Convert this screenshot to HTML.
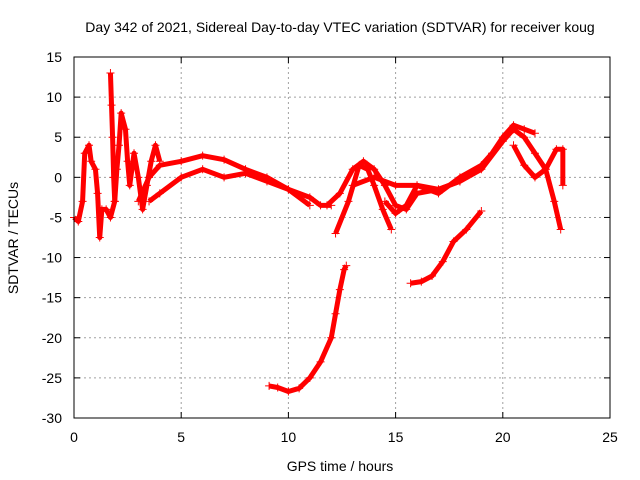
<!DOCTYPE html>
<html><head><meta charset="utf-8"><style>
body{margin:0;background:#fff}
svg{display:block;font-family:"Liberation Sans",sans-serif;font-size:14px}
</style></head><body>
<svg id="chart" width="640" height="480">
<text x="340" y="32" text-anchor="middle">Day 342 of 2021, Sidereal Day-to-day VTEC variation (SDTVAR) for receiver koug</text>
<text x="340" y="471" text-anchor="middle">GPS time / hours</text>
<text transform="translate(18,238) rotate(-90)" text-anchor="middle">SDTVAR / TECUs</text>
<g id="grid"></g><g id="ticks"></g><g id="marks"></g>
<rect x="74" y="57" width="536" height="361" fill="none" stroke="#000"/>
</svg>
<script>
const xTicks=[0,5,10,15,20,25];
const yTicks=[15,10,5,0,-5,-10,-15,-20,-25,-30];
const traceEarly=[[0,-5],[0.2,-5.5],[0.4,-3],[0.5,3],[0.7,4],[0.8,2],[1,1],[1.1,-2],[1.2,-7.5],[1.3,-4],[1.5,-4],[1.7,-5],[1.9,-3],[2,1],[2.1,4],[2.2,8],[2.4,6],[2.5,2],[2.6,-1],[2.8,3],[3,0],[3.2,-4],[3.4,-1],[3.6,2],[3.8,4],[4,2]];
const traceSpike=[[1.7,13],[1.75,9],[1.8,5],[1.85,0],[1.9,-3]];
const traceA=[[3,-3],[3.5,0],[4,1.5],[5,2],[6,2.7],[7,2.2],[8,1],[9,0],[10,-1.5],[11,-2.5],[11.5,-3.5],[12,-3.5]];
const traceB=[[3.5,-3],[4,-2],[5,0],[6,1],[7,0],[8,0.5],[9,-0.5],[10,-1.5],[11,-3.5]];
const traceC=[[12.2,-7],[12.8,-3],[13.3,1.5],[13.7,1],[14,-1],[14.4,-4],[14.8,-6.5]];
const traceD=[[11.8,-3.5],[12.4,-2],[13,1],[13.5,2],[14,1],[14.5,-1],[15,-3.5],[15.5,-4],[16,-2],[17,-1.5],[18,-0.5],[19,1],[20,4.5],[20.5,6],[21,5],[21.5,3],[22,1],[22.4,-3],[22.7,-6.5]];
const traceE=[[13,-1],[14,0],[15,-1],[16,-1],[17,-2],[18,0],[19,1.5],[19.5,3],[20,5],[20.5,6.5],[21,6],[21.5,5.5]];
const traceF=[[14.5,-3],[15,-4.5],[15.5,-3.5],[16,-1],[17,-1.5],[18,-0.5]];
const traceG=[[20.5,4],[21,1.5],[21.5,0],[22,1],[22.5,3.5],[22.8,3.5],[22.8,-1]];
const traceH=[[9.1,-26],[9.5,-26.2],[10,-26.7],[10.5,-26.3],[11,-25],[11.5,-23],[12,-20],[12.2,-17],[12.4,-14],[12.6,-11.5],[12.7,-11]];
const traceI=[[15.7,-13.2],[16.2,-13],[16.7,-12.3],[17.2,-10.5],[17.7,-8],[18.3,-6.5],[19,-4.2]];
const traces=[traceEarly,traceSpike,traceA,traceB,traceC,traceD,traceE,traceF,traceG,traceH,traceI];
const NS="http://www.w3.org/2000/svg";
const X=v=>74+v*(536/25), Y=v=>418-(v+30)*(361/45);
function mk(t,a,p){const e=document.createElementNS(NS,t);for(const k in a)e.setAttribute(k,a[k]);p.appendChild(e);return e;}
const grid=document.getElementById('grid'),ticks=document.getElementById('ticks'),marks=document.getElementById('marks');
xTicks.forEach(v=>{
 if(v>0&&v<25){const g=mk('line',{x1:X(v),x2:X(v),y1:57,y2:418,stroke:'#a0a0a0','stroke-dasharray':'2,3'},grid);
 
 }
 mk('line',{x1:X(v),x2:X(v),y1:418,y2:412,stroke:'#000'},ticks);
 mk('line',{x1:X(v),x2:X(v),y1:57,y2:63,stroke:'#000'},ticks);
 const t=mk('text',{x:X(v),y:442,'text-anchor':'middle'},ticks);t.textContent=v;
 
 
});
yTicks.forEach(v=>{
 if(v>-30&&v<15){const g=mk('line',{x1:74,x2:610,y1:Y(v),y2:Y(v),stroke:'#a0a0a0','stroke-dasharray':'2,3'},grid);
 
 }
 mk('line',{x1:74,x2:80,y1:Y(v),y2:Y(v),stroke:'#000'},ticks);
 mk('line',{x1:610,x2:604,y1:Y(v),y2:Y(v),stroke:'#000'},ticks);
 const t=mk('text',{x:62,y:Y(v)+5,'text-anchor':'end'},ticks);t.textContent=v;
 
 
});
traces.forEach(tr=>{
 const pl=mk('polyline',{points:tr.map(p=>X(p[0])+','+Y(p[1])).join(' '),fill:'none',stroke:'#f00','stroke-width':5,'stroke-linejoin':'round'},marks);
 
 
 tr.forEach(p=>{
  const m=mk('path',{d:`M${X(p[0])-4},${Y(p[1])}h8M${X(p[0])},${Y(p[1])-4}v8`,stroke:'#f00','stroke-width':1},marks);
  
  
 });
});
</script>
</body></html>
